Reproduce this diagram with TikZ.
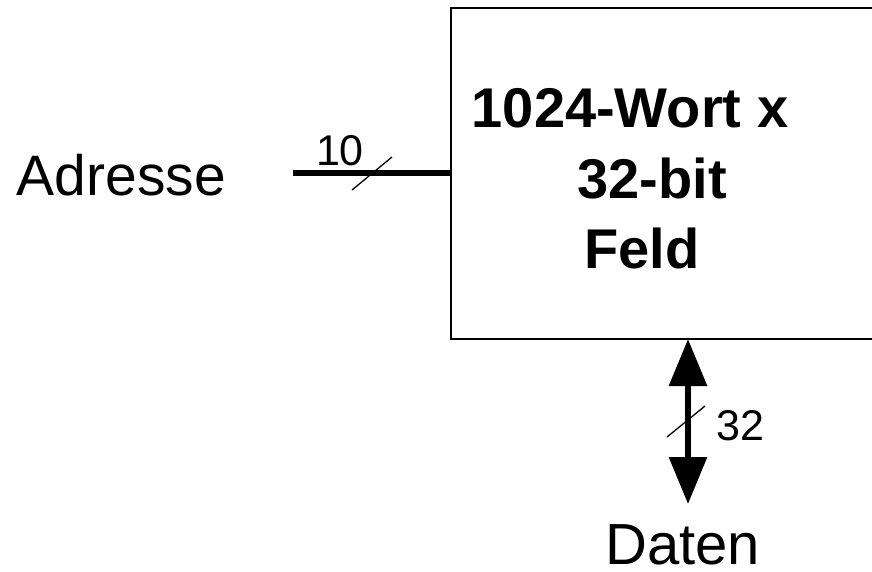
\documentclass[tikz,border=0pt]{standalone}
\usepackage{fontspec}
\setmainfont{Liberation Sans}
\usetikzlibrary{arrows.meta}
\begin{document}
\begin{tikzpicture}[x=1pt,y=-1pt,
  lbl/.style={inner sep=0pt, anchor=base, text depth=0pt, font=\fontsize{57}{60}\selectfont},
  small/.style={inner sep=0pt, anchor=base, text depth=0pt, font=\fontsize{43}{46}\selectfont},
  boldlbl/.style={inner sep=0pt, anchor=base, text depth=0pt, font=\fontsize{56}{60}\selectfont\bfseries},
  boxline/.style={line width=2pt},
  bus/.style={line width=5.5pt},
  slash/.style={line width=1.3pt}
]
\useasboundingbox (0,0) rectangle (872,572);
% box (right side beyond the picture)
\draw[boxline] (872,8) -- (451,8) -- (451,339) -- (872,339);
\coordinate (boxW) at (451,173);
\coordinate (boxB) at (688,339);
% texts
\node[lbl] (adr) at (121.5,195) {Adresse};
\node[lbl, font=\fontsize{58}{60}\selectfont] (dat) at (682.5,564) {Daten};
\node[small] (n10) at (340,166) {10};
\node[small] (n32) at (740,440) {32};
\node[boldlbl] (l1) at (630,128) {1024-Wort x};
\node[boldlbl] (l2) at (652,199) {32-bit};
\node[boldlbl] (l3) at (642,268) {Feld};
% address bus
\coordinate (adrEnd) at (293,173);
\draw[bus] (adrEnd) -- (boxW);
\coordinate (s1a) at (352,190);
\coordinate (s1b) at (392,157);
\draw[slash] (s1a) -- (s1b);
% data bus
\coordinate (datEnd) at (688,504);
\draw[line width=6pt, {Triangle[length=47pt,width=37pt]}-{Triangle[length=47pt,width=37pt]}] (boxB) -- (datEnd);
\coordinate (s2a) at (667,437);
\coordinate (s2b) at (705,406);
\draw[slash] (s2a) -- (s2b);
\end{tikzpicture}
\end{document}
